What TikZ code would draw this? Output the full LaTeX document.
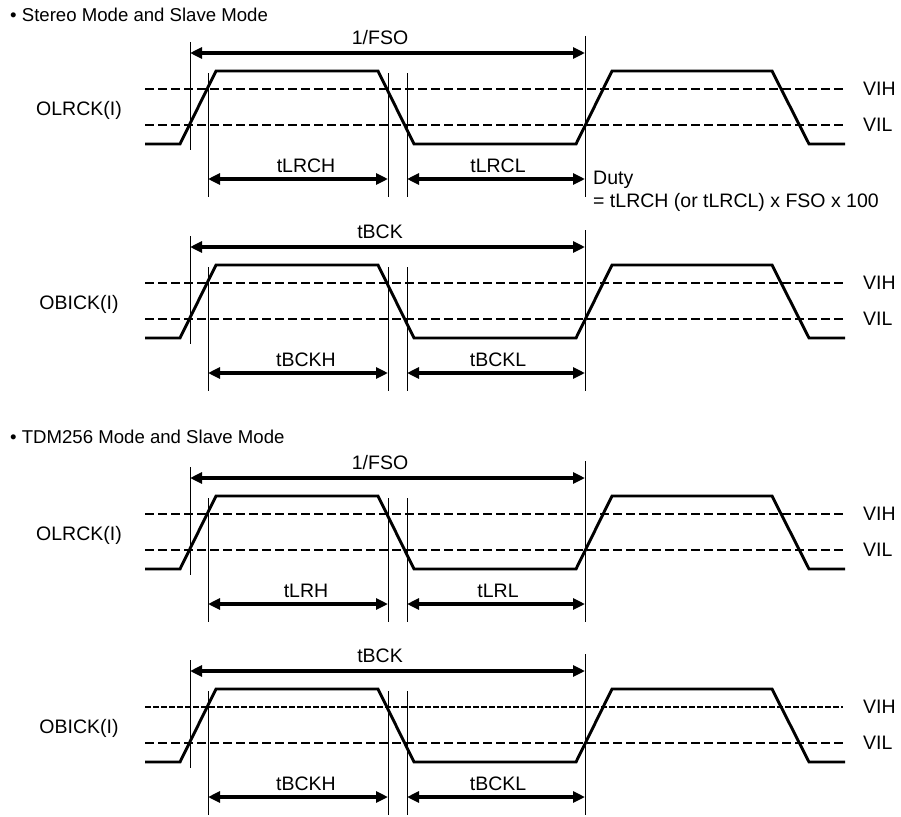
\documentclass[tikz,border=0pt]{standalone}
\usepackage{fontspec}
\setmainfont{Liberation Sans}
\usetikzlibrary{arrows.meta}
\tikzset{
  sig/.style={line width=2.9pt, line join=miter},
  thr/.style={line width=2pt, dash pattern=on 9pt off 4pt},
  thrdense/.style={line width=2.6pt, dash pattern=on 5.5pt off 2.5pt},
  vref/.style={line width=1pt},
  dimarrow/.style={line width=3.3pt, {Triangle[length=12pt,width=11pt]}-{Triangle[length=12pt,width=11pt]}},
  lbl/.style={font=\fontsize{19.5}{22}\selectfont, inner sep=0pt},
  ttl/.style={font=\fontsize{18.6}{22}\selectfont, inner sep=0pt, anchor=west},
}
% #1 offset, #2 prefix, #3 signal name, #4 top label, #5 high label, #6 low label, #7 VIH line style
\newcommand\tdsection[7]{%
\begin{scope}[yshift=-#1pt]
  % reference verticals
  \coordinate (#2-at) at (190,42);  \coordinate (#2-ab) at (190,150);
  \coordinate (#2-bt) at (208,73);  \coordinate (#2-bb) at (208,197);
  \coordinate (#2-ct) at (388,73);  \coordinate (#2-cb) at (388,197);
  \coordinate (#2-dt) at (407,73);  \coordinate (#2-db) at (407,197);
  \coordinate (#2-et) at (585,36);  \coordinate (#2-eb) at (585,197);
  \draw[vref] (#2-at) -- (#2-ab);
  \draw[vref] (#2-bt) -- (#2-bb);
  \draw[vref] (#2-ct) -- (#2-cb);
  \draw[vref] (#2-dt) -- (#2-db);
  \draw[vref] (#2-et) -- (#2-eb);
  % thresholds
  \coordinate (#2-hl) at (145,89);  \coordinate (#2-hr) at (843,89);
  \coordinate (#2-ll) at (145,125); \coordinate (#2-lr) at (843,125);
  \draw[#7] (#2-hl) -- (#2-hr);
  \draw[thr] (#2-ll) -- (#2-lr);
  % waveform
  \draw[sig] (145,144) -- (180,144) -- (216,71) -- (378,71) -- (414,144)
             -- (576,144) -- (612,71) -- (772,71) -- (809,144) -- (845,144);
  % dimension arrows
  \coordinate (#2-p1) at (190,53);  \coordinate (#2-p2) at (585,53);
  \coordinate (#2-h1) at (208,179); \coordinate (#2-h2) at (388,179);
  \coordinate (#2-l1) at (407,179); \coordinate (#2-l2) at (585,179);
  \draw[dimarrow] (#2-p1) -- (#2-p2);
  \draw[dimarrow] (#2-h1) -- (#2-h2);
  \draw[dimarrow] (#2-l1) -- (#2-l2);
  % labels
  \node[lbl] (#2-name) at (79,110) {#3};
  \node[lbl] (#2-top) at (380,38) {#4};
  \node[lbl] (#2-hi) at (306,166) {#5};
  \node[lbl] (#2-lo) at (498,166) {#6};
  \node[lbl, anchor=west] (#2-vih) at (863,89) {VIH};
  \node[lbl, anchor=west] (#2-vil) at (863,125) {VIL};
\end{scope}}
\begin{document}
\begin{tikzpicture}[x=1pt, y=-1pt]
  \useasboundingbox[fill=white] (0,0) rectangle (901,816);
  \node[ttl] (t1) at (10,15) {• Stereo Mode and Slave Mode};
  \tdsection{0}{A}{OLRCK(I)}{1/FSO}{tLRCH}{tLRCL}{thr}
  \node[lbl, anchor=west] (duty1) at (593,180) {Duty};
  \node[lbl, anchor=west] (duty2) at (593,202) {= tLRCH (or tLRCL) x FSO x 100};
  \tdsection{194}{B}{OBICK(I)}{tBCK}{tBCKH}{tBCKL}{thr}
  \node[ttl] (t2) at (10,437) {• TDM256 Mode and Slave Mode};
  \tdsection{425}{C}{OLRCK(I)}{1/FSO}{tLRH}{tLRL}{thr}
  \tdsection{618}{D}{OBICK(I)}{tBCK}{tBCKH}{tBCKL}{thrdense}
\end{tikzpicture}
\end{document}
